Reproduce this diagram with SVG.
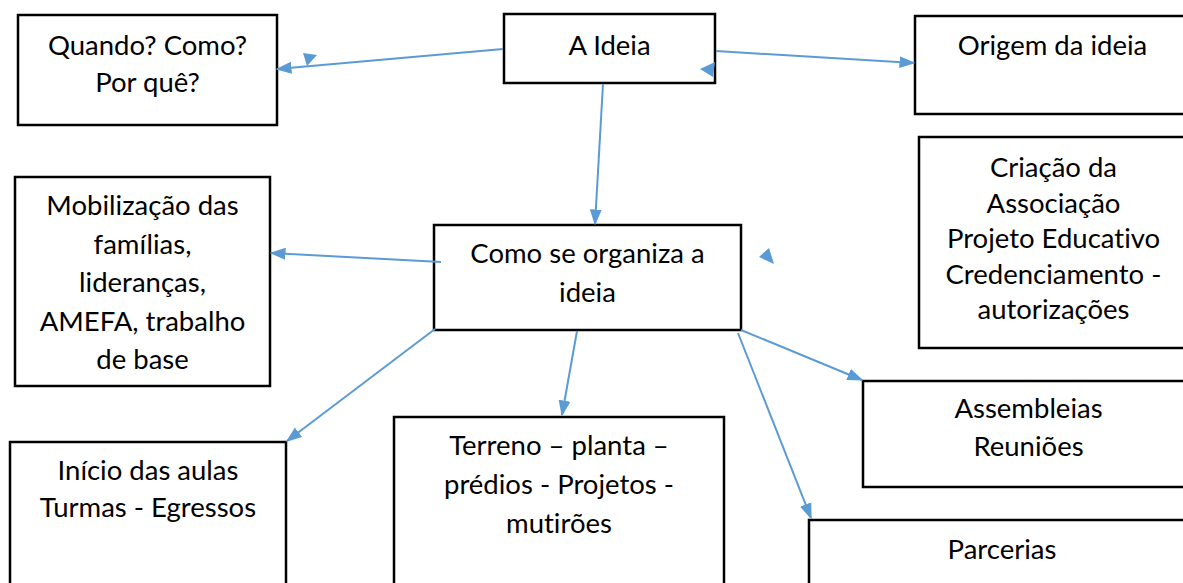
<svg xmlns="http://www.w3.org/2000/svg" width="1183" height="583" viewBox="0 0 1183 583">
<defs>
<style>
.box{fill:#fff;stroke:#000;stroke-width:2.5}
.t{font-family:Lato,"Open Sans","Liberation Sans",sans-serif;font-size:27.5px;fill:#000;text-anchor:middle;font-variant-ligatures:none}
.c{stroke:#5B9BD5;stroke-width:2;fill:none;marker-end:url(#ah)}
.h{fill:#5B9BD5;stroke:none}
</style>
<marker id="ah" markerUnits="userSpaceOnUse" markerWidth="16" markerHeight="13" refX="14.5" refY="6.5" orient="auto" viewBox="0 0 16 13">
<path d="M0,0.5 L16,6.5 L0,12.5 z" fill="#5B9BD5"/>
</marker>
</defs>
<rect width="1183" height="583" fill="#fff"/>

<g id="n-quando"><rect class="box" x="18" y="15" width="259" height="110"/>
<text class="t" x="147.5" y="55">Quando? Como?</text><text class="t" x="147.5" y="92">Por quê?</text></g>

<g id="n-ideia"><rect class="box" x="504" y="14" width="211" height="69"/>
<text class="t" x="609.5" y="55">A Ideia</text></g>

<g id="n-origem"><rect class="box" x="915" y="16" width="276" height="98"/>
<text class="t" x="1052.5" y="55">Origem da ideia</text></g>

<g id="n-criacao"><rect class="box" x="919" y="137" width="270" height="211"/>
<text class="t" x="1053.5" y="177">Criação da</text>
<text class="t" x="1053.5" y="212.5">Associação</text>
<text class="t" x="1053.5" y="248">Projeto Educativo</text>
<text class="t" x="1053.5" y="283.5">Credenciamento -</text>
<text class="t" x="1053.5" y="319">autorizações</text></g>

<g id="n-mobilizacao"><rect class="box" x="15" y="177" width="255" height="209"/>
<text class="t" x="142.5" y="215">Mobilização das</text>
<text class="t" x="142.5" y="253.5">famílias,</text>
<text class="t" x="142.5" y="292">lideranças,</text>
<text class="t" x="142.5" y="330.5">AMEFA, trabalho</text>
<text class="t" x="142.5" y="369">de base</text></g>

<g id="n-como"><rect class="box" x="434" y="225" width="307" height="105"/>
<text class="t" x="587.5" y="263">Como se organiza a</text>
<text class="t" x="587.5" y="302">ideia</text></g>

<g id="n-inicio"><rect class="box" x="10" y="442" width="276" height="160"/>
<text class="t" x="148" y="480">Início das aulas</text>
<text class="t" x="148" y="517">Turmas - Egressos</text></g>

<g id="n-terreno"><rect class="box" x="394" y="417" width="330" height="185"/>
<text class="t" x="559" y="455">Terreno – planta –</text>
<text class="t" x="559" y="494">prédios - Projetos -</text>
<text class="t" x="559" y="533">mutirões</text></g>

<g id="n-assembleias"><rect class="box" x="863" y="381" width="331" height="106"/>
<text class="t" x="1028.5" y="418">Assembleias</text>
<text class="t" x="1028.5" y="456">Reuniões</text></g>

<g id="n-parcerias"><rect class="box" x="809" y="520" width="386" height="80"/>
<text class="t" x="1002" y="559">Parcerias</text></g>

<g id="connectors">
<line class="c" x1="503" y1="49" x2="277" y2="69"/>
<line class="c" x1="716" y1="51" x2="914" y2="63"/>
<line class="c" x1="603" y1="84" x2="595" y2="224"/>
<line class="c" x1="441" y1="262" x2="271" y2="253"/>
<line class="c" x1="435" y1="329" x2="287" y2="441"/>
<line class="c" x1="577" y1="331" x2="562" y2="415"/>
<line class="c" x1="741" y1="330" x2="862" y2="380"/>
<line class="c" x1="738" y1="333" x2="811" y2="518"/>
<polygon class="h" points="303,53 317,55 307,66"/>
<polygon class="h" points="700,69 715,62 713,77"/>
<polygon class="h" points="759,257 769,248 774,264"/>
</g>
</svg>
